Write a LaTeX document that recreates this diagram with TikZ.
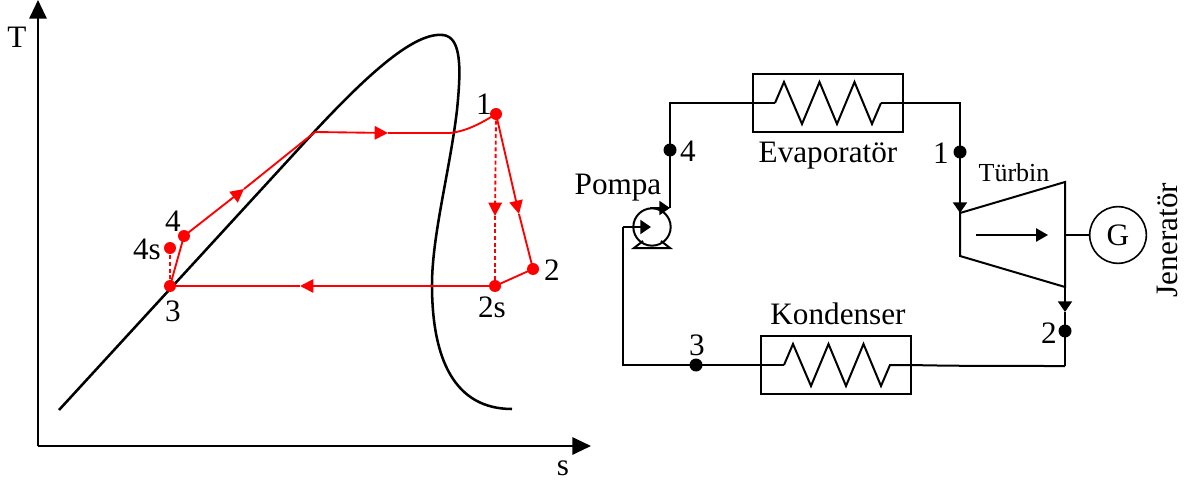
\documentclass[tikz,border=0pt]{standalone}
\usepackage{fontspec}
\setmainfont{Liberation Serif}
\usetikzlibrary{arrows.meta,positioning}
\newcommand{\coilpath}{-- ++(9,-21) -- ++(18,42) -- ++(17.5,-42) -- ++(17.5,42) -- ++(17.5,-42) -- ++(17.5,42) -- ++(9,-21)}
\begin{document}
\begin{tikzpicture}[x=.75pt,y=-.75pt,font=\fontsize{23.4}{26}\selectfont,>=Triangle,
 pipe/.style={line width=1.5pt,black},
 dome/.style={line width=1.9pt,black},
 axis/.style={line width=1.5pt,black,-{Triangle[length=14pt,width=13pt]}},
 redline/.style={line width=1.4pt,red},
 redflow/.style={redline,-{Triangle[length=10pt,width=10pt]}},
 reddash/.style={redline,densely dashed},
 reddot/.style={circle,fill=red,inner sep=0pt,minimum size=9pt},
 blackdot/.style={circle,fill=black,inner sep=0pt,minimum size=9.75pt},
 pipeflow/.style={pipe,-{Triangle[length=8pt,width=10.5pt]}},
 exchanger/.style={draw,line width=1.5pt,inner sep=0pt,minimum width=112.5pt,minimum height=44pt},
 label/.style={inner sep=0pt}]
\useasboundingbox (0,0) rectangle (1189,481);
% T-s diagram
\coordinate (origin) at (38,446);
\coordinate (taxis) at (38,0);
\coordinate (saxis) at (591,446);
\draw[axis] (origin) -- (taxis);
\draw[axis] (origin) -- (saxis);
\node[label] (tlabel) at (17,37) {T};
\node[label] (slabel) at (563,468) {s};
\draw[dome] (59,410) -- (315,131) .. controls (370,72) and (415,32) .. (443,35)
 .. controls (462,37) and (461,70) .. (457,110) .. controls (450,170) and (432,235) .. (432,285)
 .. controls (432,360) and (455,409) .. (512,409);
\node[reddot] (s1) at (496,114) {};
\node[reddot] (s2) at (533,269) {};
\node[reddot] (s2s) at (495,286) {};
\node[reddot] (s3) at (170,286) {};
\node[reddot] (s4) at (184,236) {};
\node[reddot] (s4s) at (170,248) {};
\coordinate (satliq) at (315,132);
\coordinate (satvap) at (450,133);
\coordinate (midboil) at (388,133);
\coordinate (midheat) at (244,189);
\coordinate (midexp) at (519,214);
\coordinate (midexps) at (495,216);
\coordinate (midcond) at (300,286);
\draw[redline] (s3.center) -- (s4.center);
\draw[redflow] (s4.center) -- (midheat);
\draw[redline] (midheat) -- (satliq);
\draw[redflow] (satliq) -- (midboil);
\draw[redline] (midboil) -- (satvap) .. controls (468,131) and (483,122) .. (s1.center);
\draw[redflow] (s1.center) -- (midexp);
\draw[redline] (midexp) -- (s2.center);
\draw[redline] (s2.center) -- (s2s.center);
\draw[redflow] (s2s.center) -- (midcond);
\draw[redline] (midcond) -- (s3.center);
\draw[reddash,-{Triangle[length=10pt,width=10pt]}] (s1.center) -- (midexps);
\draw[reddash] (midexps) -- (s2s.center);
\draw[reddash] (s3.center) -- (s4s.center);
\node[label] at (484,104) {1};
\node[label] at (552,270) {2};
\node[label] at (492,307) {2s};
\node[label] at (173,311) {3};
\node[label] at (173,221) {4};
\node[label] at (147,249) {4s};
% cycle
\node[exchanger] (evap) at (828,103) {};
\node[exchanger] (kond) at (836,365) {};
\coordinate (evapin) at (775,103);
\coordinate (evapout) at (881,103);
\coordinate (kondin) at (784,365);
\coordinate (kondout) at (889,365);
\draw[pipe] (evapin) \coilpath;
\draw[pipe] (kondin) \coilpath;
\node[draw,circle,line width=1.5pt,inner sep=0pt,minimum size=28pt] (pump) at (652,227) {};
\draw[pipe] (643,241) -- (634,248) -- (670,248) -- (661,241);
\node[blackdot] (p4) at (670,150) {};
\node[blackdot] (p1) at (960,152) {};
\node[blackdot] (p2) at (1065,331) {};
\node[blackdot] (p3) at (696,365) {};
\coordinate (turbin) at (960,213);
\coordinate (turbtop) at (1065,182);
\coordinate (turbbot) at (1065,287);
\coordinate (turbout) at (960,256);
\coordinate (turbshaft) at (1065,235);
\draw[pipe,line join=miter] (turbin) -- (turbtop) -- (turbbot) -- (turbout) -- cycle;
\node[draw,circle,line width=1.2pt,inner sep=0pt,minimum size=42.5pt] (gen) at (1118,235) {G};
\draw[line width=1.2pt] (turbshaft) -- (gen);
\coordinate (flowstart) at (976,235);
\coordinate (flowend) at (1048,235);
\draw[line width=1.2pt,-{Triangle[length=9pt,width=10pt]}] (flowstart) -- (flowend);
\coordinate (pumpoutc) at (670,208);
\coordinate (pumpouts) at (650,208);
\coordinate (pumpinc) at (623,227);
\coordinate (pumpint) at (651,227);
\coordinate (kondcorner) at (623,365);
\coordinate (turbexit) at (1065,312);
\coordinate (kondend) at (1065,366);
\draw[pipe] (evapin) -| (p4.center);
\draw[pipe] (p4.center) -- (pumpoutc);
\draw[pipeflow] (pumpouts) -- (pumpoutc);
\draw[pipe] (evapout) -| (p1.center);
\draw[pipeflow] (p1.center) -- (turbin);
\draw[pipeflow] (turbbot) -- (turbexit);
\draw[pipe] (turbexit) -- (p2.center) -- (kondend);
\draw[pipe] (kondout) -- (kond.east) .. controls (950,366) and (1000,366) .. (kondend);
\draw[pipe] (kondin) -- (p3.center) -- (kondcorner) -- (pumpinc);
\draw[pipeflow] (pumpinc) -- (pumpint);
\node[label] at (688,151) {4};
\node[label] at (941,153) {1};
\node[label] at (1049,333) {2};
\node[label] at (697,345) {3};
\node[label] at (828,156) {Evaporatör};
\node[label,font=\fontsize{19.5}{22}\selectfont] at (1014,173) {Türbin};
\node[label] at (618,188) {Pompa};
\node[label] at (838,314) {Kondenser};
\node[label,rotate=90] at (1167,240) {Jeneratör};
\end{tikzpicture}
\end{document}
